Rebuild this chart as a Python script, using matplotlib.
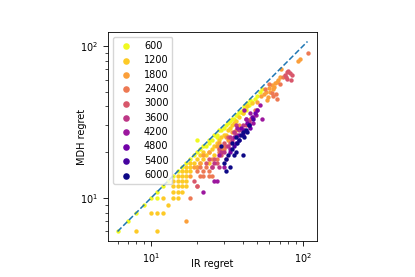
import numpy as np
import matplotlib
matplotlib.use("Agg")
import matplotlib.pyplot as plt

budgets = [600, 1200, 1800, 2400, 3000, 3600, 4200, 4800, 5400, 6000]

# IR regret (x) / MDH regret (y), one pair of lists per budget
x600 = [6, 7, 8, 9, 10, 11, 11, 12, 13, 14, 15, 16, 17, 18, 19, 20, 20, 21, 22, 23, 24, 24, 25, 26, 27,
        27, 28, 29, 30, 31, 32, 33, 34, 35, 36, 37, 38, 39, 40, 40, 41, 42, 42, 43, 44, 45, 46, 48, 50, 52, 54]
y600 = [6, 7, 8, 9, 10, 11, 10, 12, 13, 14, 15, 16, 17, 18, 19, 24, 20, 21, 22, 22, 24, 23, 24, 26, 26,
        25, 28, 28, 29, 30, 31, 32, 33, 33, 35, 35, 37, 37, 38, 36, 40, 40, 38, 42, 41, 44, 43, 45, 47, 50, 52]
x1200 = [8, 11, 10, 11, 12, 12, 14, 15, 14, 15, 16, 14, 15, 16, 17, 14, 15, 16, 17, 15, 16, 17, 16, 17, 18,
         17, 18, 20, 18, 19, 21, 20, 22, 21, 23, 22, 24, 25, 26, 27, 28, 29, 30, 31, 32, 33, 34, 36, 38, 40,
         43, 46, 24, 26, 28, 35, 13]
y1200 = [6, 6, 8, 8, 8, 10, 10, 10, 11, 11, 11, 12, 12, 12, 12, 13, 13, 13, 13, 14, 14, 14, 15, 15, 15,
         16, 16, 16, 17, 17, 17, 18, 18, 19, 19, 20, 20, 21, 22, 23, 24, 25, 26, 26, 28, 29, 30, 32, 34, 36,
         40, 42, 17, 19, 21, 31, 9]
x1800 = [17, 18, 19, 20, 21, 22, 24, 25, 27, 28, 30, 32, 34, 36, 38, 29, 31, 55,
         57, 59, 60, 62, 63, 65, 67, 68, 70, 72, 58, 61, 64, 93, 95, 50, 53]
y1800 = [7, 14, 16, 16, 17, 19, 20, 18, 22, 23, 22, 24, 27, 28, 30, 21, 25, 48,
         50, 46, 53, 55, 52, 57, 58, 60, 62, 70, 44, 50, 54, 80, 82, 43, 47]
x2400 = [18, 20, 21, 22, 24, 25, 20, 22, 24, 21, 23, 27, 28, 30,
         107, 62, 63, 66, 67, 70, 60, 74, 56, 48, 45]
y2400 = [10, 12, 14, 14, 14, 14, 15, 15, 15, 16, 16, 18, 20, 21,
         90, 49, 47, 48, 45, 56, 56, 62, 52, 38, 33]
x3000 = [19, 20, 23, 24, 25, 26, 27, 28, 29, 30, 31, 32, 33, 35, 37, 76, 78, 80, 82, 84, 79, 77, 83, 42, 44, 40]
y3000 = [13, 12, 17, 18, 16, 18, 17, 21, 19, 23, 22, 25, 23, 27, 26, 64, 67, 68, 66, 64, 61, 62, 60, 30, 31, 28]
x3600 = [25, 26, 28, 30, 31, 32, 33, 34, 35, 36, 38, 40, 42, 44, 47, 36, 50, 29]
y3600 = [16, 17, 16, 20, 18, 22, 25, 24, 27, 26, 28, 30, 33, 32, 34, 30, 38, 20]
x4200 = [22, 26, 27, 28, 30, 33, 35, 37, 40, 42, 44, 45, 47, 49, 52, 54, 41]
y4200 = [11, 13, 13, 19, 16, 21, 25, 29, 27, 33, 30, 36, 31, 35, 41, 33, 38]
x4800 = [33, 36, 38, 41, 43, 46, 48, 39, 45, 50]
y4800 = [20, 23, 26, 28, 31, 34, 36, 29, 29, 38]
x5400 = [35, 40, 44, 38, 47]
y5400 = [22, 26, 30, 24, 33]
x6000 = [29, 30, 31, 32, 33, 34, 35, 36, 37, 38, 39, 40, 40, 41, 42, 43, 44, 36, 34, 31]
y6000 = [22, 17, 15, 19, 16, 21, 19, 20, 23, 24, 26, 19, 27, 25, 28, 27, 30, 25, 23, 18]

xs = [x600, x1200, x1800, x2400, x3000, x3600, x4200, x4800, x5400, x6000]
ys = [y600, y1200, y1800, y2400, y3000, y3600, y4200, y4800, y5400, y6000]


def main():
    plt.rcParams["font.size"] = 7
    fig = plt.figure(figsize=(4.15, 2.77), dpi=100)
    ax = fig.add_axes([108 / 415, 36 / 277, 209 / 415, 209 / 277])

    cmap = plt.cm.plasma_r
    for b, x, y in zip(budgets, xs, ys):
        ax.scatter(x, y, s=10, color=cmap((b - 600) / 5400), label=str(b), linewidths=0)

    all_x = np.concatenate([np.array(v) for v in xs])
    all_y = np.concatenate([np.array(v) for v in ys])
    lo = min(all_x.min(), all_y.min())
    hi = max(all_x.max(), all_y.max())
    ax.plot([lo, hi], [lo, hi], "--", color="tab:blue", lw=1.1)

    ax.set_xscale("log")
    ax.set_yscale("log")
    span = np.log10(hi) - np.log10(lo)
    lims = (10 ** (np.log10(lo) - 0.05 * span), 10 ** (np.log10(hi) + 0.05 * span))
    ax.set_xlim(lims)
    ax.set_ylim(lims)
    ax.set_xlabel("IR regret")
    ax.set_ylabel("MDH regret")
    ax.xaxis.set_label_coords(0.5, -0.088)
    ax.yaxis.set_label_coords(-0.1, 0.5)
    ax.legend(loc="upper left", markerscale=1.5, labelspacing=0.45)
    for s in ax.spines.values():
        s.set_linewidth(0.6)
    ax.tick_params(width=0.6)
    ax.tick_params(which="minor", width=0.5)

    fig.savefig("out.png", dpi=100)


if __name__ == "__main__":
    main()
